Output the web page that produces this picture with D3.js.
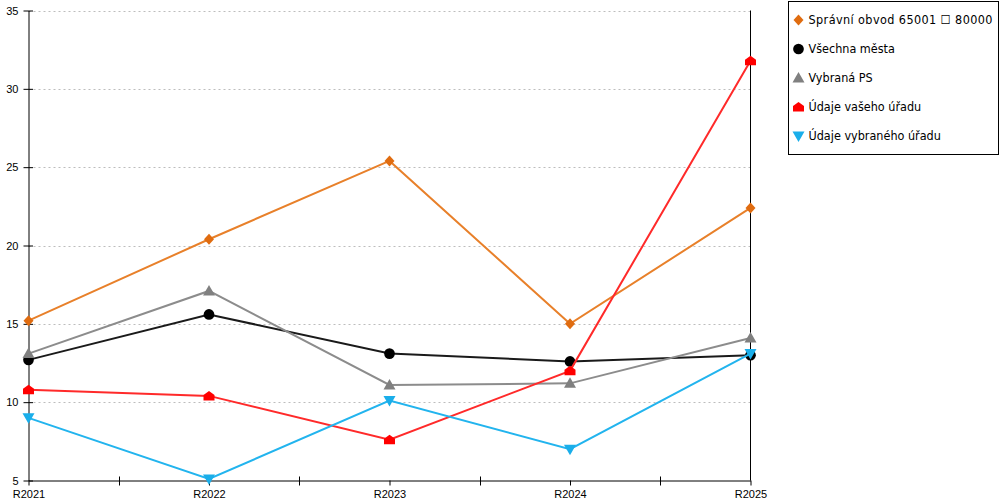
<!DOCTYPE html>
<html>
<head>
<meta charset="utf-8">
<script src="https://cdn.jsdelivr.net/npm/d3@7"></script>
<style>
  body { margin: 0; background: #fff; }
  svg { font-family: "DejaVu Sans Condensed", "DejaVu Sans", sans-serif; }
</style>
</head>
<body>
<div id="viz"></div>
<script>
// chart data
const years = ["R2021", "R2022", "R2023", "R2024", "R2025"];
const yTicks = [5, 10, 15, 20, 25, 30, 35];

const spravniObvod = [15.2, 20.4, 25.4, 15.0, 22.4];
const vsechnaMesta = [12.7, 15.6, 13.1, 12.6, 13.0];
const vybranaPS = [13.1, 17.1, 11.1, 11.2, 14.1];
const udajeVasehoUradu = [10.8, 10.4, 7.6, 12.0, 31.8];
const udajeVybranehoUradu = [9.0, 5.1, 10.1, 7.0, 13.1];

const seriesNames = [
  "Správní obvod 65001 \u2610 80000",
  "Všechna města",
  "Vybraná PS",
  "Údaje vašeho úřadu",
  "Údaje vybraného úřadu",
];

// styling per series, same order as names
const styles = [
  { line: "#e8802a", fill: "#e06c10", symbol: "diamond" },
  { line: "#1a1a1a", fill: "#000000", symbol: "circle" },
  { line: "#8c8c8c", fill: "#808080", symbol: "triangle" },
  { line: "#ff2a2a", fill: "#ff0000", symbol: "house" },
  { line: "#22b4ee", fill: "#1aaeea", symbol: "triangleDown" },
];

const allValues = [
  spravniObvod,
  vsechnaMesta,
  vybranaPS,
  udajeVasehoUradu,
  udajeVybranehoUradu,
];

/**
 * Returns a path string for the given marker shape centred at 0,0
 */
function markerPath(type) {
  switch (type) {
    case "diamond":
      return "M0,-5.5L5,0L0,5.5L-5,0Z";
    case "circle":
      return d3.symbol(d3.symbolCircle, 90)();
    case "triangle":
      return "M0,-6L6,4.5L-6,4.5Z";
    case "triangleDown":
      return "M-6,-4.5L6,-4.5L0,6Z";
    case "house":
      return "M0,-5L5.5,-1L5.5,4.5L-5.5,4.5L-5.5,-1Z";
  }
}

function createChart() {
  const width = 1000;
  const height = 500;
  const left = 28.5;
  const right = 750.5;
  const top = 10.5;
  const bottom = 480.5;

  const svg = d3
    .select("#viz")
    .append("svg")
    .attr("width", width)
    .attr("height", height);

  const x = d3.scalePoint().domain(years).range([left, right]);
  const y = d3.scaleLinear().domain([5, 35]).range([bottom, top]);

  // dotted gridlines
  svg
    .append("g")
    .selectAll("line")
    .data(yTicks.filter((d) => d > 5))
    .enter()
    .append("line")
    .attr("x1", left)
    .attr("x2", right)
    .attr("y1", (d) => Math.round(y(d)) + 0.5)
    .attr("y2", (d) => Math.round(y(d)) + 0.5)
    .attr("stroke", "#bdbdbd")
    .attr("stroke-dasharray", "2,3");

  // right border of plot
  svg
    .append("line")
    .attr("x1", right)
    .attr("x2", right)
    .attr("y1", top)
    .attr("y2", bottom)
    .attr("stroke", "#000");

  // y axis
  const yAxis = svg
    .append("g")
    .attr("transform", `translate(${left},0)`)
    .call(d3.axisLeft(y).tickValues(yTicks).tickSize(5).tickSizeOuter(0));
  yAxis.select(".domain").attr("stroke", "#000");
  yAxis
    .selectAll(".tick line")
    .attr("x1", 4.5)
    .attr("x2", -5);
  yAxis
    .selectAll(".tick text")
    .attr("x", -10)
    .attr("font-family", null)
    .attr("font-size", null)
    .style("font-size", "11px")
    .attr("fill", "#000");

  // x axis with ticks at categories and between them
  const xAxis = svg
    .append("g")
    .attr("transform", `translate(0,${bottom})`)
    .call(d3.axisBottom(x).tickSize(5).tickSizeOuter(0).tickPadding(5));
  xAxis
    .selectAll(".tick text")
    .attr("font-family", null)
    .attr("font-size", null)
    .style("font-size", "11px")
    .attr("fill", "#000");

  const mids = d3.pairs(years).map(([a, b]) => (x(a) + x(b)) / 2);
  xAxis
    .selectAll("line.mid")
    .data(mids)
    .enter()
    .append("line")
    .classed("mid", true)
    .attr("x1", (d) => Math.round(d) + 0.5)
    .attr("x2", (d) => Math.round(d) + 0.5)
    .attr("y1", -4)
    .attr("y2", 5)
    .attr("stroke", "#000");

  // series lines and markers
  const line = d3
    .line()
    .x((d, i) => x(years[i]))
    .y((d) => y(d));

  allValues.forEach((values, s) => {
    const st = styles[s];
    const g = svg.append("g").classed("series", true);

    g.append("path")
      .datum(values)
      .attr("d", line)
      .attr("fill", "none")
      .attr("stroke", st.line)
      .attr("stroke-width", 2);

    g.selectAll("path.marker")
      .data(values)
      .enter()
      .append("path")
      .classed("marker", true)
      .attr("d", markerPath(st.symbol))
      .attr("transform", (d, i) => `translate(${x(years[i])},${y(d)})`)
      .attr("fill", st.fill);
  });

  // legend
  const legend = svg.append("g").attr("transform", "translate(788.5,1.5)");
  legend
    .append("rect")
    .attr("width", 210)
    .attr("height", 153)
    .attr("fill", "#fff")
    .attr("stroke", "#000");

  const items = legend
    .selectAll("g.item")
    .data(seriesNames)
    .enter()
    .append("g")
    .classed("item", true)
    .attr("transform", (d, i) => `translate(10,${18.5 + i * 29})`);

  items
    .append("path")
    .attr("d", (d, i) => markerPath(styles[i].symbol))
    .attr("fill", (d, i) => styles[i].fill);

  items
    .append("text")
    .text((d) => d)
    .attr("x", 10)
    .attr("dy", "0.35em")
    .style("font-size", "12.5px")
    .attr("fill", "#000");

  // first label is rendered wider in the original
  items
    .filter((d, i) => i === 0)
    .select("text")
    .attr("textLength", 184)
    .attr("lengthAdjust", "spacing");
}

createChart();
</script>
</body>
</html>
